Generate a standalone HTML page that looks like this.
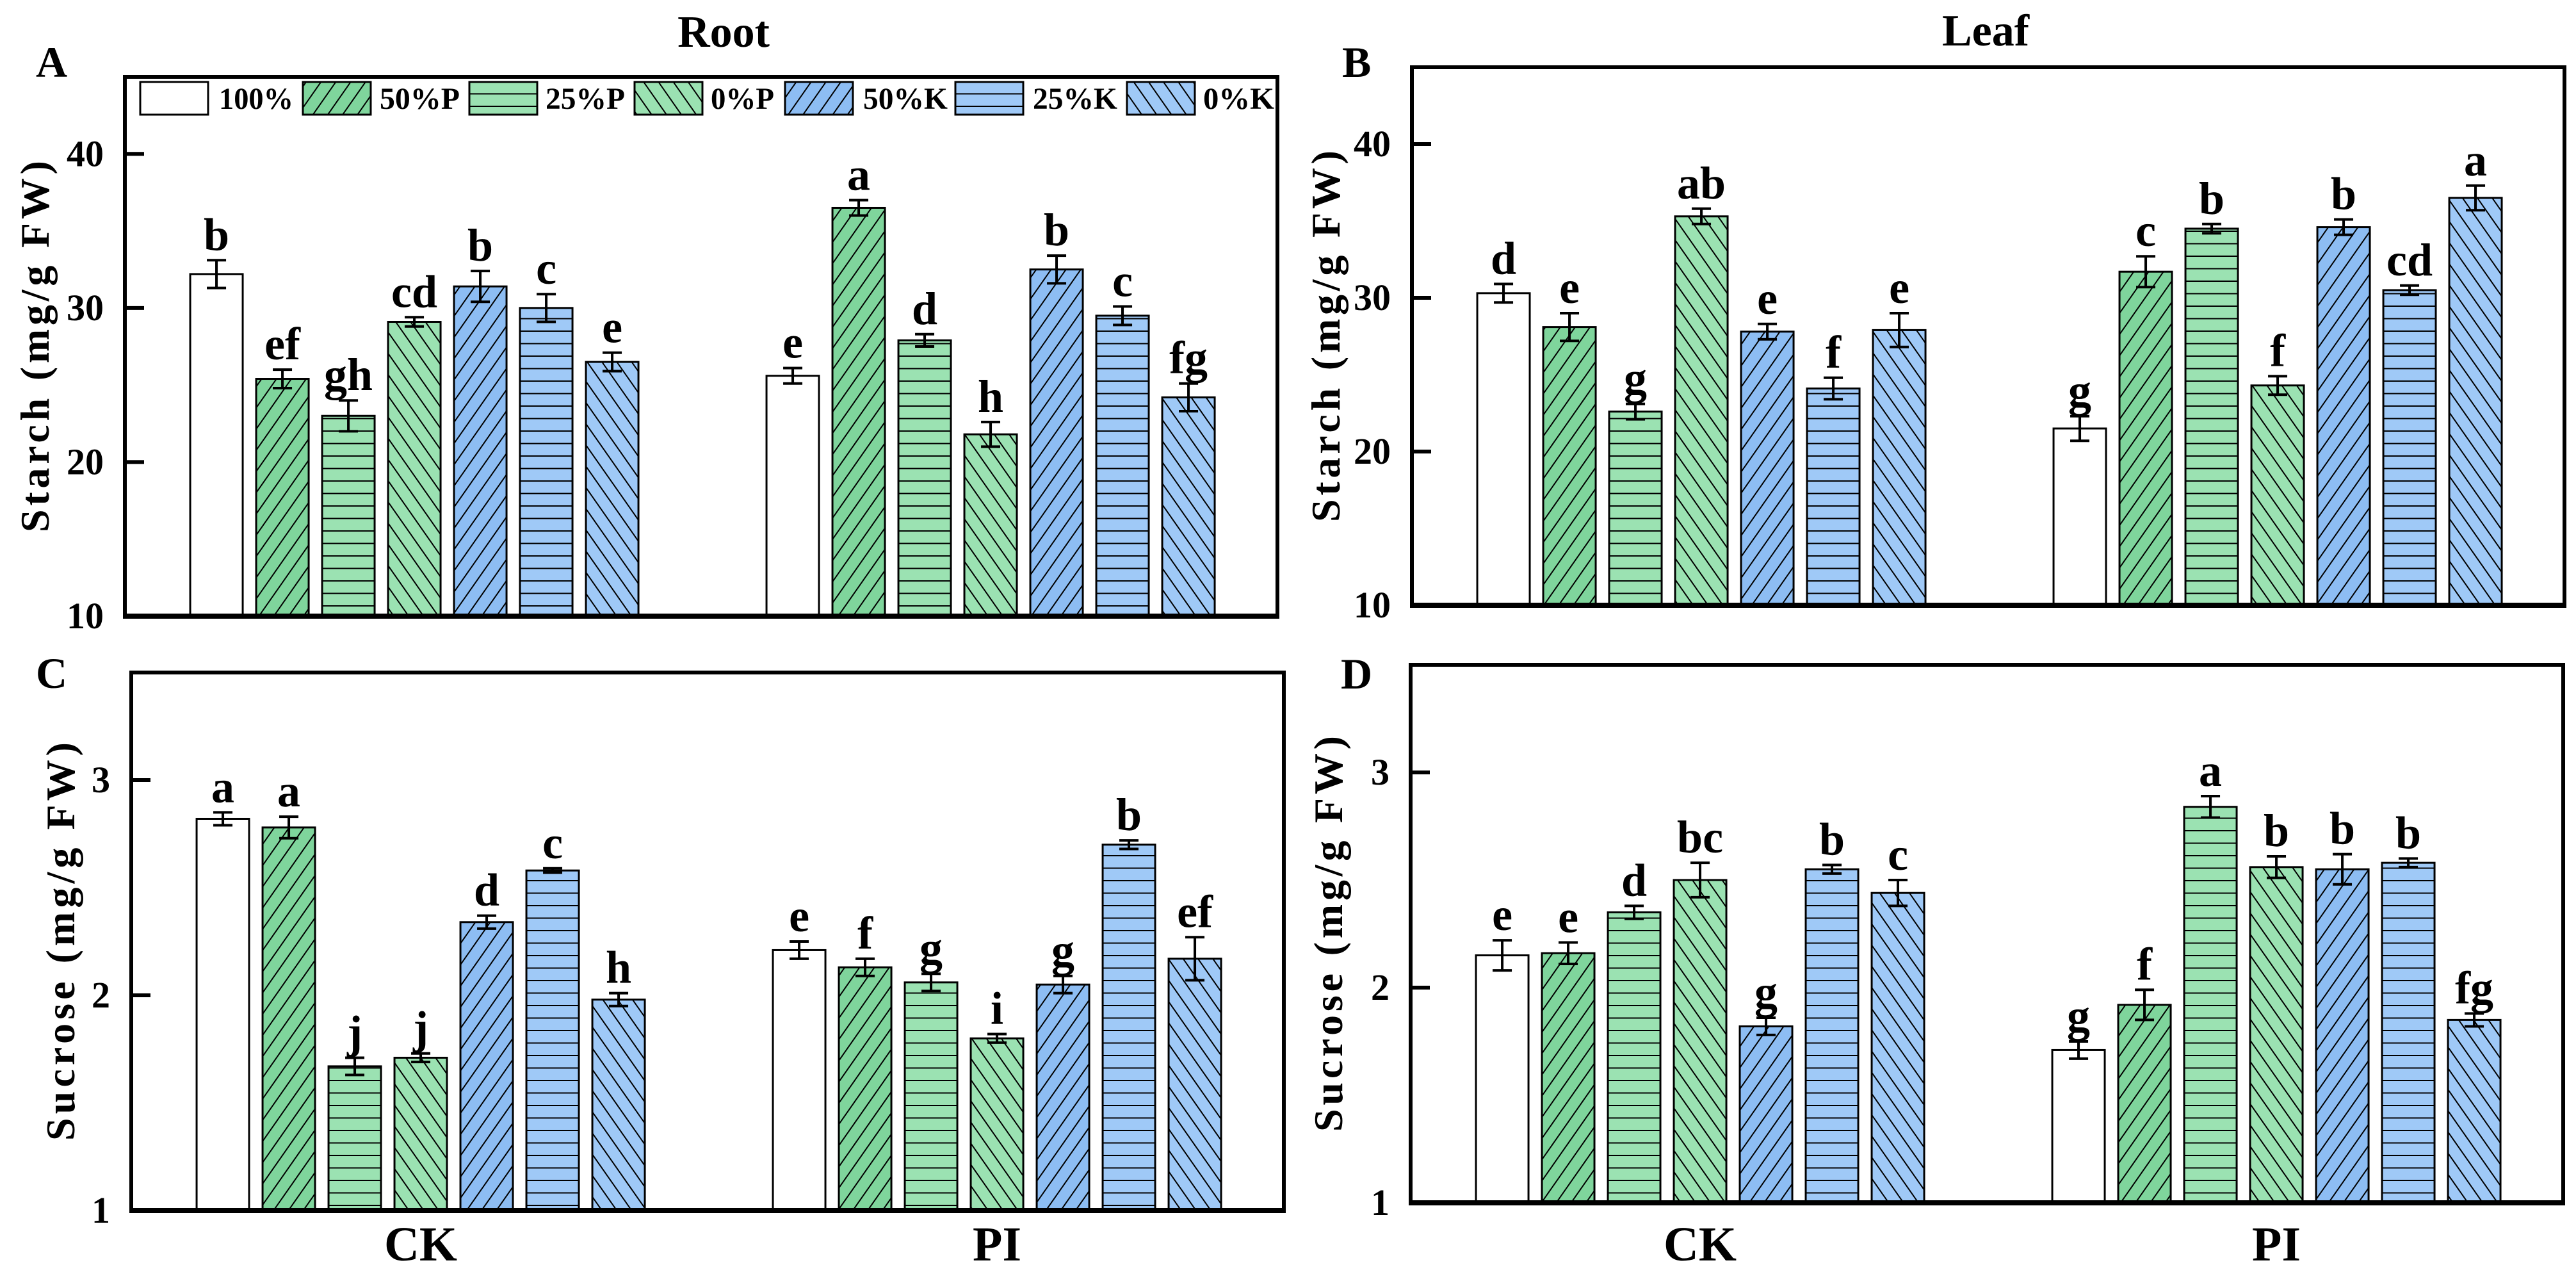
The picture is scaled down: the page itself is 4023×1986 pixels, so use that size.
<!DOCTYPE html>
<html><head><meta charset="utf-8"><style>
html,body{margin:0;padding:0;background:#fff;}
svg{display:block;font-family:"Liberation Serif","Times New Roman",serif;font-weight:bold;}
</style></head><body>
<svg id="fig" width="4023" height="1986" viewBox="0 0 4023 1986" xmlns="http://www.w3.org/2000/svg">
<defs>
<pattern id="p-fwd" patternUnits="userSpaceOnUse" width="19" height="19" patternTransform="rotate(35)"><line x1="9" y1="-5" x2="9" y2="25" stroke="#000" stroke-width="2"/></pattern>
<pattern id="p-back" patternUnits="userSpaceOnUse" width="19" height="19" patternTransform="rotate(-35)"><line x1="9" y1="-5" x2="9" y2="25" stroke="#000" stroke-width="2"/></pattern>
<pattern id="p-hor" patternUnits="userSpaceOnUse" width="19" height="19.5"><line x1="-5" y1="10" x2="25" y2="10" stroke="#000" stroke-width="2"/></pattern>
</defs>
<text x="1130" y="73" font-size="70" text-anchor="middle">Root</text>
<text x="3101" y="71" font-size="70" text-anchor="middle">Leaf</text>
</svg>
<script>
const treatments = ["100%","50%P","25%P","0%P","50%K","25%K","0%K"];
const groups = ["CK","PI"];
const starchRootCK = [32.2,25.4,23.0,29.1,31.4,30.0,26.5];
const starchRootPI = [25.6,36.5,27.9,21.8,32.5,29.5,24.2];
const starchRootErrCK = [0.9,0.6,1.0,0.3,1.0,0.9,0.6];
const starchRootErrPI = [0.5,0.5,0.4,0.8,0.9,0.6,0.9];
const starchRootLetCK = ["b","ef","gh","cd","b","c","e"];
const starchRootLetPI = ["e","a","d","h","b","c","fg"];
const starchLeafCK = [30.3,28.1,22.6,35.3,27.8,24.1,27.9];
const starchLeafPI = [21.5,31.7,34.5,24.3,34.6,30.5,36.5];
const starchLeafErrCK = [0.6,0.9,0.5,0.5,0.5,0.7,1.1];
const starchLeafErrPI = [0.8,1.0,0.3,0.6,0.5,0.3,0.8];
const starchLeafLetCK = ["d","e","g","ab","e","f","e"];
const starchLeafLetPI = ["g","c","b","f","b","cd","a"];
const sucRootCK = [2.82,2.78,1.67,1.71,2.34,2.58,1.98];
const sucRootPI = [2.21,2.13,2.06,1.80,2.05,2.70,2.17];
const sucRootErrCK = [0.03,0.05,0.04,0.02,0.03,0.01,0.03];
const sucRootErrPI = [0.04,0.04,0.04,0.02,0.04,0.02,0.10];
const sucRootLetCK = ["a","a","j","j","d","c","h"];
const sucRootLetPI = ["e","f","g","i","g","b","ef"];
const sucLeafCK = [2.15,2.16,2.35,2.50,1.82,2.55,2.44];
const sucLeafPI = [1.71,1.92,2.84,2.56,2.55,2.58,1.85];
const sucLeafErrCK = [0.07,0.05,0.03,0.08,0.04,0.02,0.06];
const sucLeafErrPI = [0.04,0.07,0.05,0.05,0.07,0.02,0.03];
const sucLeafLetCK = ["e","e","d","bc","g","b","c"];
const sucLeafLetPI = ["g","f","a","b","b","b","fg"];
const starchTicks = [10,20,30,40];
const sucTicks = [1,2,3];

const NS="http://www.w3.org/2000/svg";
const svg=document.getElementById('fig');
const fills=[
 {c:"#ffffff",p:null},{c:"#7fd59c",p:"p-fwd"},{c:"#9be2b2",p:"p-hor"},{c:"#9be2b2",p:"p-back"},
 {c:"#8dbdf3",p:"p-fwd"},{c:"#9fc9f7",p:"p-hor"},{c:"#9fc9f7",p:"p-back"}];
function mk(tag,attrs,parent){const e=document.createElementNS(NS,tag);for(const k in attrs)e.setAttribute(k,attrs[k]);(parent||svg).appendChild(e);return e;}

function panel(o){
  const g=mk('g',{});
  
  
  const W=o.x1-o.x0;
  const y=v=>o.y1-(v-o.min)/(o.max-o.min)*(o.y1-o.y0);
  const bx=(gi,i)=>o.x0+W*(gi===0?0.0567:0.5567)+i*103;
  const sets=[[o.ck,o.eck,o.lck],[o.pi,o.epi,o.lpi]];
  sets.forEach((s,gi)=>{
    s[0].forEach((v,i)=>{
      const x=bx(gi,i),top=y(v),f=fills[i];
      const r1=mk('rect',{x:x,y:top,width:82,height:o.y1-top,fill:f.c,stroke:'none'},g);
      
      
      if(f.p){const r2=mk('rect',{x:x,y:top,width:82,height:o.y1-top,fill:'url(#'+f.p+')'},g);
        
        }
      const r3=mk('rect',{x:x,y:top,width:82,height:o.y1-top,fill:'none',stroke:'#000','stroke-width':3},g);
      
      
      const e=s[1][i],cx=x+41,yt=y(v+e),yb=y(v-e);
      const eb=mk('path',{d:`M${cx} ${yt}V${yb}M${cx-15} ${yt}H${cx+15}M${cx-15} ${yb}H${cx+15}`,stroke:'#000','stroke-width':4,fill:'none'},g);
      
      
      const t=mk('text',{x:cx,y:yt-16,'font-size':72,'text-anchor':'middle'},g);
      t.textContent=s[2][i];
      
      
    });
  });
  const fr=mk('rect',{x:o.x0,y:o.y0,width:W,height:o.y1-o.y0,fill:'none',stroke:'#000','stroke-width':6},g);
  
  
  const bl=mk('line',{x1:o.x0-3,x2:o.x1+3,y1:o.y1,y2:o.y1,stroke:'#000','stroke-width':8},g);
  
  
  o.ticks.forEach(v=>{
    const ty=y(v);
    const tk=mk('line',{x1:o.x0,x2:o.x0+30,y1:ty,y2:ty,stroke:'#000','stroke-width':6},g);
    
    
    const tl=mk('text',{x:o.x0-33,y:ty+19,'font-size':58,'text-anchor':'end'},g);
    tl.textContent=v;
    
    
  });
  const cy=(o.y0+o.y1)/2;
  const yl=mk('text',{x:0,y:0,'font-size':64,'text-anchor':'middle',textLength:o.labLen,lengthAdjust:'spacing',transform:`translate(${o.labX+22},${cy}) rotate(-90)`},g);
  yl.textContent=o.label;
  
  
  const pl=mk('text',{x:o.letX,y:o.letY,'font-size':68},g);
  pl.textContent=o.id;
  
  
  if(o.xlabels){groups.forEach((gn,gi)=>{
    const gx=bx(gi,0)+(6*103+82)/2;
    const xl=mk('text',{x:gx,y:1968,'font-size':76,'text-anchor':'middle'},g);
    xl.textContent=gn;
    
    
  });}
}
panel({id:'A',x0:195,x1:1995,y0:120,y1:962,min:10,max:45,ck:starchRootCK,pi:starchRootPI,eck:starchRootErrCK,epi:starchRootErrPI,lck:starchRootLetCK,lpi:starchRootLetPI,ticks:starchTicks,label:'Starch (mg/g FW)',labX:54,labLen:580,letX:56,letY:120});
panel({id:'B',x0:2205,x1:4005,y0:105,y1:945,min:10,max:45,ck:starchLeafCK,pi:starchLeafPI,eck:starchLeafErrCK,epi:starchLeafErrPI,lck:starchLeafLetCK,lpi:starchLeafLetPI,ticks:starchTicks,label:'Starch (mg/g FW)',labX:2070,labLen:580,letX:2096,letY:120});
panel({id:'C',x0:205,x1:2005,y0:1050,y1:1890,min:1,max:3.5,ck:sucRootCK,pi:sucRootPI,eck:sucRootErrCK,epi:sucRootErrPI,lck:sucRootLetCK,lpi:sucRootLetPI,ticks:sucTicks,label:'Sucrose (mg/g FW)',labX:94,labLen:622,letX:56,letY:1074,xlabels:true});
panel({id:'D',x0:2203,x1:4003,y0:1038,y1:1878,min:1,max:3.5,ck:sucLeafCK,pi:sucLeafPI,eck:sucLeafErrCK,epi:sucLeafErrPI,lck:sucLeafLetCK,lpi:sucLeafLetPI,ticks:sucTicks,label:'Sucrose (mg/g FW)',labX:2074,labLen:618,letX:2094,letY:1075,xlabels:true});

// legend
const legSwX=[219,473,733,991,1226,1492,1760];
const legTxt=[[342,116],[593,125],[852,124],[1110,99],[1348,132],[1613,132],[1879,111]];
const lg=mk('g',{});


treatments.forEach((t,i)=>{
  const f=fills[i];
  const s1=mk('rect',{x:legSwX[i],y:128,width:106,height:51,fill:f.c},lg);
  
  
  if(f.p){const s2=mk('rect',{x:legSwX[i],y:128,width:106,height:51,fill:'url(#'+f.p+')'},lg);
    
    }
  const s3=mk('rect',{x:legSwX[i],y:128,width:106,height:51,fill:'none',stroke:'#000','stroke-width':3},lg);
  
  
  const tx=mk('text',{x:legTxt[i][0],y:170,'font-size':48,textLength:legTxt[i][1],lengthAdjust:'spacingAndGlyphs'},lg);
  tx.textContent=t;
  
  
});
</script>
</body></html>
